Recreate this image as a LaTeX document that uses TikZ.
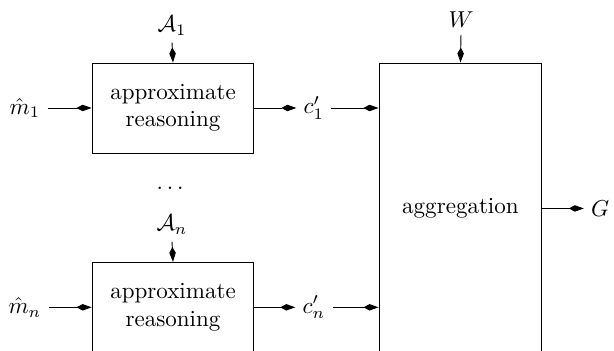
\documentclass[tikz,border=0pt]{standalone}
\usepackage{amsmath,amssymb}
\usetikzlibrary{arrows.meta,positioning}
\tikzset{
  block/.style={draw,rectangle,minimum width=2.47cm,minimum height=1.373cm,align=center,inner sep=0pt},
  bigblock/.style={draw,rectangle,minimum width=2.487cm,minimum height=4.44cm,inner sep=0pt},
  lbl/.style={inner sep=3pt}
}

\begin{document}
\begin{tikzpicture}[>={Kite[length=6.5pt,width=2.8pt,inset=2.6pt]}]
  \useasboundingbox (0,0) rectangle (9.37,-5.35);

  \node[block] (ar1) at (2.64,-1.648) {approximate\\reasoning};
  \node[block] (arn) at (2.64,-4.69) {approximate\\reasoning};
  \node[bigblock] (agg) at (7.027,-3.181) {aggregation};

  \node[lbl] (m1) at (0.38,-1.648) {$\hat{m}_1$};
  \node[lbl] (mn) at (0.38,-4.69) {$\hat{m}_n$};
  \node[lbl] (A1) at (2.625,-0.39) {$\mathcal{A}_1$};
  \node[lbl] (An) at (2.625,-3.43) {$\mathcal{A}_n$};
  \node (dots) at (2.625,-2.87) {$\dots$};
  \node[lbl] (c1) at (4.79,-1.648) {$c_1'$};
  \node[lbl] (cn) at (4.79,-4.69) {$c_n'$};
  \node[lbl] (W) at (7.035,-0.3) {$W$};
  \node[lbl] (G) at (9.16,-3.181) {$G$};

  \draw[->] (m1.east) -- (ar1.west);
  \draw[->] (mn.east) -- (arn.west);
  \draw[->] (A1.south) -- (ar1.north);
  \draw[->] (An.south) -- (arn.north);
  \draw[->] (ar1.east) -- (c1.west);
  \draw[->] (arn.east) -- (cn.west);
  \draw[->] (c1.east) -- (c1.east -| agg.west);
  \draw[->] (cn.east) -- (cn.east -| agg.west);
  \draw[->] (W.south) -- (agg.north);
  \draw[->] (agg.east) -- (G.west);
\end{tikzpicture}
\end{document}
